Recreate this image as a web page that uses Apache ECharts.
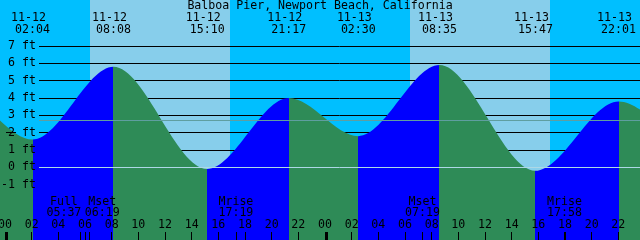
<!DOCTYPE html>
<html><head><meta charset="utf-8">
<script src="https://cdn.jsdelivr.net/npm/echarts@6/dist/echarts.min.js"></script>
<style>html,body{margin:0;padding:0;background:#00BFFF}#c{width:640px;height:240px}</style>
</head><body><div id="c"></div>
<script>
// ---------------- data ----------------
const TITLE = 'Balboa Pier, Newport Beach, California';
// tide extremes (first two and last two lie outside the visible window)
const tideDate   = ['11-11','11-11','11-12','11-12','11-12','11-12','11-13','11-13','11-13','11-13','11-14','11-14'];
const tideClock  = ['13:42','20:30','02:04','08:08','15:10','21:17','02:30','08:35','15:47','22:01','03:00','09:12'];
const tideHeight = [0.2, 4.3, 1.6, 5.8, -0.1, 4.0, 1.8, 5.9, -0.2, 3.8, 1.9, 5.9];
// sun
const sunDate    = ['11-12','11-13'];
const sunrise    = ['06:22','06:22'];
const sunset     = ['16:52','16:52'];
// moon events
const moonDate   = ['11-12','11-12','11-12','11-13','11-13'];
const moonClock  = ['05:37','06:19','17:19','07:19','17:58'];
const moonLabel  = ['Full','Mset','Mrise','Mset','Mrise'];
// axes
const hourTicks  = [0,2,4,6,8,10,12,14,16,18,20,22,24,26,28,30,32,34,36,38,40,42,44,46];
const hourLabels = ['00','02','04','06','08','10','12','14','16','18','20','22','00','02','04','06','08','10','12','14','16','18','20','22'];
const dayStarts  = [0, 24];
const ftTicks    = [-1,0,1,2,3,4,5,6,7];
const ftLabels   = ['-1 ft','0 ft','1 ft','2 ft','3 ft','4 ft','5 ft','6 ft','7 ft'];
const gridLevels = [1,2,3,4,5,6,7];
const ZERO_LEVEL = 0;
const MEAN_LEVEL = 2.71;
const MARK_LEVEL = 2;

// ---------------- layout / style ----------------
const X_MIN = -0.375, X_MAX = 47.625;
const Y_MIN = -4.192, Y_MAX = 9.654;
const FONT = '"DejaVu Sans Mono", "Liberation Mono", monospace';
const FS = 11.6;
const C_NIGHT = '#00BFFF', C_DAY = '#87CEEB', C_RISE = '#0000FF', C_FALL = '#2E8B57';
const C_ZERO = '#ADD8E6', C_MEAN = '#5F9EA0';
const LINE_LEFT = 39;
const TOP_ROW1 = 17.5, TOP_ROW2 = 29.5, DATE_SHIFT = -4;
const MOON_ROW1 = 201.7, MOON_ROW2 = 213.3;
const MOON_SHIFT = [-16, 13, 0, 0, 0];

const toHour = (d, c) => (parseInt(d.split('-')[1], 10) - 12) * 24 + parseInt(c.slice(0, 2), 10) + parseInt(c.slice(3), 10) / 60;
const tideX = tideDate.map((d, i) => toHour(d, tideClock[i]));
const tideData = tideX.map((t, i) => [t, tideHeight[i]]);
const visTide = tideX.map((t, i) => i).filter(i => tideX[i] >= X_MIN && tideX[i] <= X_MAX);
const sunData = sunDate.map((d, i) => [toHour(d, sunrise[i]), toHour(d, sunset[i])]);
const moonX = moonDate.map((d, i) => toHour(d, moonClock[i]));

// rising (blue) / falling (green) pieces between extremes
const pieces = [];
const n = tideX.length;
pieces.push({ lt: tideX[0], color: tideHeight[1] > tideHeight[0] ? C_FALL : C_RISE });
for (let i = 0; i < n - 1; i++) {
  pieces.push({ gte: tideX[i], lt: tideX[i + 1], color: tideHeight[i + 1] > tideHeight[i] ? C_RISE : C_FALL });
}
pieces.push({ gte: tideX[n - 1], color: tideHeight[n - 1] > tideHeight[n - 2] ? C_FALL : C_RISE });

const chart = echarts.init(document.getElementById('c'), null, { renderer: 'canvas' });
const txt = (x, y, s) => ({ type: 'text', x: x, y: y, style: { text: s, font: FS + 'px ' + FONT, fill: '#000', align: 'center', verticalAlign: 'middle' } });

chart.setOption({
  animation: false,
  title: { text: TITLE, left: 'center', top: 0, padding: 0,
    textStyle: { fontFamily: FONT, fontSize: FS, fontWeight: 'normal', color: '#000', lineHeight: 12 } },
  grid: { left: 0, right: 0, top: 0, bottom: 0, show: true, backgroundColor: C_NIGHT, borderWidth: 0, outerBoundsMode: 'none' },
  xAxis: [{
    type: 'value', min: X_MIN, max: X_MAX, position: 'bottom', z: 10,
    axisLine: { show: false, onZero: false }, splitLine: { show: false },
    axisTick: { show: true, inside: true, length: 8, customValues: hourTicks.concat(moonX), lineStyle: { color: '#000', width: 1 } },
    axisLabel: { show: true, inside: true, margin: 9, customValues: hourTicks, color: '#000', fontFamily: FONT, fontSize: FS, lineHeight: 12,
      formatter: v => hourLabels[hourTicks.indexOf(v)] }
  }],
  yAxis: [{
    type: 'value', min: Y_MIN, max: Y_MAX, position: 'left', z: 10,
    axisLine: { show: false, onZero: false }, axisTick: { show: false }, splitLine: { show: false },
    axisLabel: { show: true, inside: true, align: 'right', margin: 36, customValues: ftTicks, color: '#000', fontFamily: FONT, fontSize: FS,
      formatter: v => ftLabels[ftTicks.indexOf(v)] }
  }],
  visualMap: { type: 'piecewise', show: false, dimension: 0, seriesIndex: 2, pieces: pieces },
  series: [
    { // day bands
      type: 'custom', z: 1, silent: true, data: sunData,
      renderItem: (p, api) => {
        const a = api.coord([api.value(0), Y_MAX]), b = api.coord([api.value(1), Y_MIN]);
        const x0 = Math.round(a[0]), x1 = Math.round(b[0]);
        return { type: 'rect', shape: { x: x0, y: a[1], width: x1 - x0, height: b[1] - a[1] }, style: { fill: C_DAY } };
      }
    },
    { // black level lines behind the tide
      type: 'custom', z: 2, silent: true, data: gridLevels.map(v => [X_MIN, v]),
      renderItem: (p, api) => {
        const y = Math.floor(api.coord([X_MIN, api.value(1)])[1]) + 0.5;
        const right = p.coordSys.x + p.coordSys.width;
        return { type: 'line', shape: { x1: LINE_LEFT, y1: y, x2: right, y2: y }, style: { stroke: '#000', lineWidth: 1 } };
      }
    },
    { // tide
      type: 'line', z: 3, silent: true, data: tideData, smooth: 0.3333, smoothMonotone: 'x', symbol: 'none',
      lineStyle: { width: 0 }, areaStyle: { opacity: 1, origin: 'start' }
    },
    { // overlay lines: zero, mean, marker dash, day ticks
      type: 'custom', z: 4, silent: true, data: [[X_MIN, ZERO_LEVEL]],
      renderItem: (p, api) => {
        const right = p.coordSys.x + p.coordSys.width;
        const yz = Math.floor(api.coord([X_MIN, ZERO_LEVEL])[1]) + 0.5;
        const ym = Math.floor(api.coord([X_MIN, MEAN_LEVEL])[1]) + 0.5;
        const yk = Math.floor(api.coord([X_MIN, MARK_LEVEL])[1]) + 0.5;
        const ch = [
          { type: 'line', shape: { x1: LINE_LEFT, y1: yz, x2: right, y2: yz }, style: { stroke: C_ZERO, lineWidth: 1 } },
          { type: 'line', shape: { x1: LINE_LEFT, y1: ym, x2: right, y2: ym }, style: { stroke: C_MEAN, lineWidth: 1 } },
          { type: 'line', shape: { x1: 6, y1: yk, x2: 16, y2: yk }, style: { stroke: '#000', lineWidth: 1 } }
        ];
        const bottom = p.coordSys.y + p.coordSys.height;
        dayStarts.forEach(h => {
          const x = Math.round(api.coord([h, 0])[0]);
          ch.push({ type: 'rect', shape: { x: x, y: bottom - 8, width: 3, height: 8 }, style: { fill: '#000' } });
        });
        return { type: 'group', children: ch };
      }
    },
    { // tide extreme labels (top)
      type: 'custom', z: 5, silent: true, data: visTide.map(i => [tideX[i], tideHeight[i]]),
      renderItem: (p, api) => {
        const i = visTide[p.dataIndex];
        const x = api.coord([api.value(0), 0])[0];
        return { type: 'group', children: [txt(x + DATE_SHIFT, TOP_ROW1, tideDate[i]), txt(x, TOP_ROW2, tideClock[i])] };
      }
    },
    { // moon labels (bottom)
      type: 'custom', z: 5, silent: true, data: moonX.map(t => [t, 0]),
      renderItem: (p, api) => {
        const i = p.dataIndex;
        const x = api.coord([api.value(0), 0])[0] + MOON_SHIFT[i];
        return { type: 'group', children: [txt(x, MOON_ROW1, moonLabel[i]), txt(x, MOON_ROW2, moonClock[i])] };
      }
    }
  ]
});
</script>
</body></html>
